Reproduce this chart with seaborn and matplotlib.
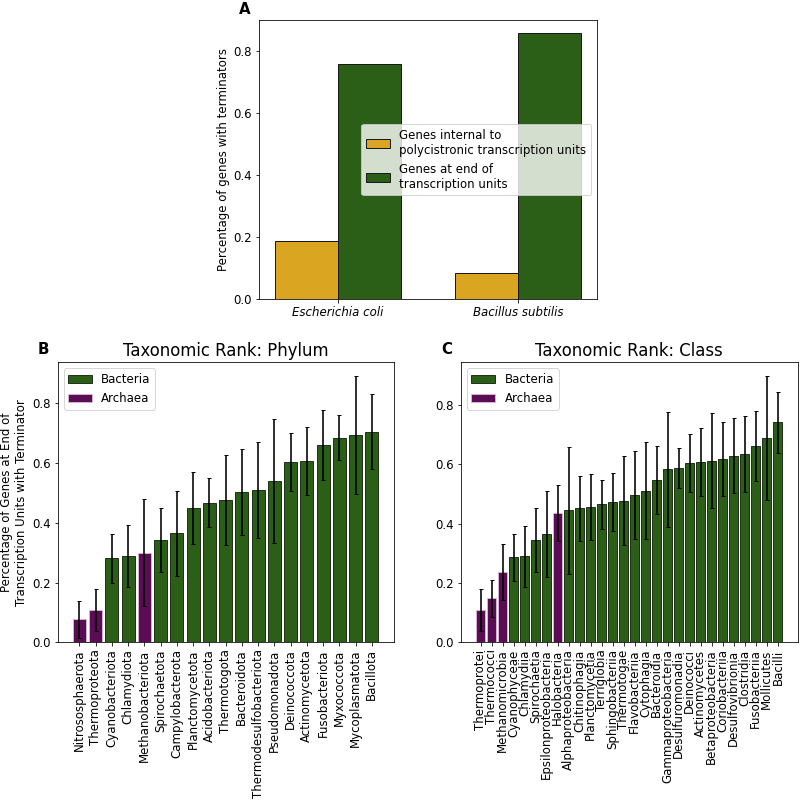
# Terminator presence: E. coli / B. subtilis, then by phylum and by class
import numpy as np
import pandas as pd
import matplotlib
matplotlib.use('Agg')
import matplotlib.pyplot as plt
from matplotlib.colors import to_hex
from matplotlib.ticker import MultipleLocator
import seaborn as sns

# Panel A data
species = ['Escherichia coli', 'Bacillus subtilis']
internal_pct = [0.188, 0.085]
end_pct = [0.757, 0.857]
group_labels = ['Genes internal to\npolycistronic transcription units',
                'Genes at end of\ntranscription units']

# Panel B data (phylum)
phyla = ['Nitrososphaerota', 'Thermoproteota', 'Cyanobacteriota', 'Chlamydiota',
         'Methanobacteriota', 'Spirochaetota', 'Campylobacterota', 'Planctomycetota',
         'Acidobacteriota', 'Thermotogota', 'Bacteroidota', 'Thermodesulfobacteriota',
         'Pseudomonadota', 'Deinococcota', 'Actinomycetota', 'Fusobacteriota',
         'Myxococcota', 'Mycoplasmatota', 'Bacillota']
phylum_mean = [0.077, 0.109, 0.281, 0.289, 0.300, 0.342, 0.364, 0.448, 0.467, 0.475,
               0.503, 0.509, 0.539, 0.602, 0.606, 0.659, 0.684, 0.693, 0.704]
phylum_err = [0.062, 0.071, 0.081, 0.103, 0.178, 0.108, 0.143, 0.120, 0.083, 0.151,
              0.143, 0.160, 0.208, 0.097, 0.115, 0.118, 0.076, 0.198, 0.126]
phylum_kingdom = ['Archaea', 'Archaea', 'Bacteria', 'Bacteria', 'Archaea'] + ['Bacteria'] * 14

# Panel C data (class)
classes = ['Thermoprotei', 'Thermococci', 'Methanomicrobia', 'Cyanophyceae', 'Chlamydiia',
           'Spirochaetia', 'Epsilonproteobacteria', 'Halobacteria', 'Alphaproteobacteria',
           'Chitinophagia', 'Planctomycetia', 'Terriglobia', 'Sphingobacteriia', 'Thermotogae',
           'Flavobacteriia', 'Cytophagia', 'Bacteroidia', 'Gammaproteobacteria',
           'Desulfuromonadia', 'Deinococci', 'Actinomycetes', 'Betaproteobacteria',
           'Coriobacteriia', 'Desulfovibrionia', 'Clostridia', 'Fusobacteriia',
           'Mollicutes', 'Bacilli']
class_mean = [0.108, 0.148, 0.238, 0.287, 0.290, 0.344, 0.366, 0.437, 0.445, 0.452,
              0.457, 0.466, 0.474, 0.478, 0.497, 0.512, 0.548, 0.583, 0.588, 0.604,
              0.607, 0.613, 0.618, 0.630, 0.635, 0.661, 0.690, 0.742]
class_err = [0.071, 0.061, 0.095, 0.079, 0.102, 0.108, 0.144, 0.094, 0.215, 0.109,
             0.112, 0.083, 0.098, 0.151, 0.149, 0.162, 0.115, 0.195, 0.069, 0.097,
             0.115, 0.161, 0.126, 0.126, 0.127, 0.118, 0.209, 0.103]
class_kingdom = ['Archaea'] * 3 + ['Bacteria'] * 4 + ['Archaea'] + ['Bacteria'] * 20

gold = '#daa520'
green = '#2b5e16'
purple = '#5a0c54'
kingdom_colors = {'Bacteria': green, 'Archaea': purple}
kingdom_edges = {green: '#15260c', purple: '#d9b8d4'}

plt.rcParams['font.size'] = 11.8


def bar_margins(n, width):
    # mimic matplotlib's default 5% x margins around the bars
    lo, hi = -width / 2, n - 1 + width / 2
    pad = 0.05 * (hi - lo)
    return lo - pad, hi + pad


def rank_panel(ax, names, means, errs, kingdoms, title):
    '''
    Bars coloured by kingdom with +/- error bars for one taxonomic rank.
    '''
    df = pd.DataFrame({'name': names, 'value': means, 'kingdom': kingdoms})
    sns.barplot(data=df, x='name', y='value', hue='kingdom', order=names,
                hue_order=['Bacteria', 'Archaea'], palette=kingdom_colors,
                saturation=1, width=0.8, errorbar=None, ax=ax)
    # dark outline on green bars, pale outline on purple ones
    for p in ax.patches:
        p.set_edgecolor(kingdom_edges.get(to_hex(p.get_facecolor()), 'black'))
        p.set_linewidth(0.9)
    ax.errorbar(np.arange(len(names)), means, yerr=errs, fmt='none',
                ecolor='black', elinewidth=1.6, capsize=2)
    ax.set_xlim(*bar_margins(len(names), 0.8))
    ax.set_ylim(bottom=0)
    ax.yaxis.set_major_locator(MultipleLocator(0.2))
    ax.set_xlabel('')
    ax.set_ylabel('')
    ax.tick_params(axis='x', rotation=90)
    ax.legend(loc='upper left')
    ax.set_title(title, fontsize=16.5)


fig = plt.figure(figsize=(800 / 72, 800 / 72), dpi=72)
axA = fig.add_axes([0.324, 0.626, 0.422, 0.349])
axB = fig.add_axes([0.072, 0.197, 0.420, 0.350])
axC = fig.add_axes([0.576, 0.197, 0.421, 0.350])

# Panel A
dfA = pd.DataFrame({
    'species': species * 2,
    'value': internal_pct + end_pct,
    'group': [group_labels[0]] * 2 + [group_labels[1]] * 2,
})
sns.barplot(data=dfA, x='species', y='value', hue='group', palette=[gold, green],
            saturation=1, width=0.7, errorbar=None, edgecolor='#1a1a1a',
            linewidth=1, ax=axA)
axA.set_xlim(*bar_margins(2, 0.7))
axA.yaxis.set_major_locator(MultipleLocator(0.2))
axA.set_xlabel('')
axA.set_ylabel('Percentage of genes with terminators')
for t in axA.get_xticklabels():
    t.set_style('italic')
axA.legend(loc='center right')

rank_panel(axB, phyla, phylum_mean, phylum_err, phylum_kingdom, 'Taxonomic Rank: Phylum')
axB.set_ylabel('Percentage of Genes at End of\nTranscription Units with Terminator')
rank_panel(axC, classes, class_mean, class_err, class_kingdom, 'Taxonomic Rank: Class')

fig.text(0.306, 0.988, 'A', fontsize=15, fontweight='bold', ha='center', va='center')
fig.text(0.054, 0.5625, 'B', fontsize=15, fontweight='bold', ha='center', va='center')
fig.text(0.559, 0.5625, 'C', fontsize=15, fontweight='bold', ha='center', va='center')

fig.savefig('out.png', dpi=72)
